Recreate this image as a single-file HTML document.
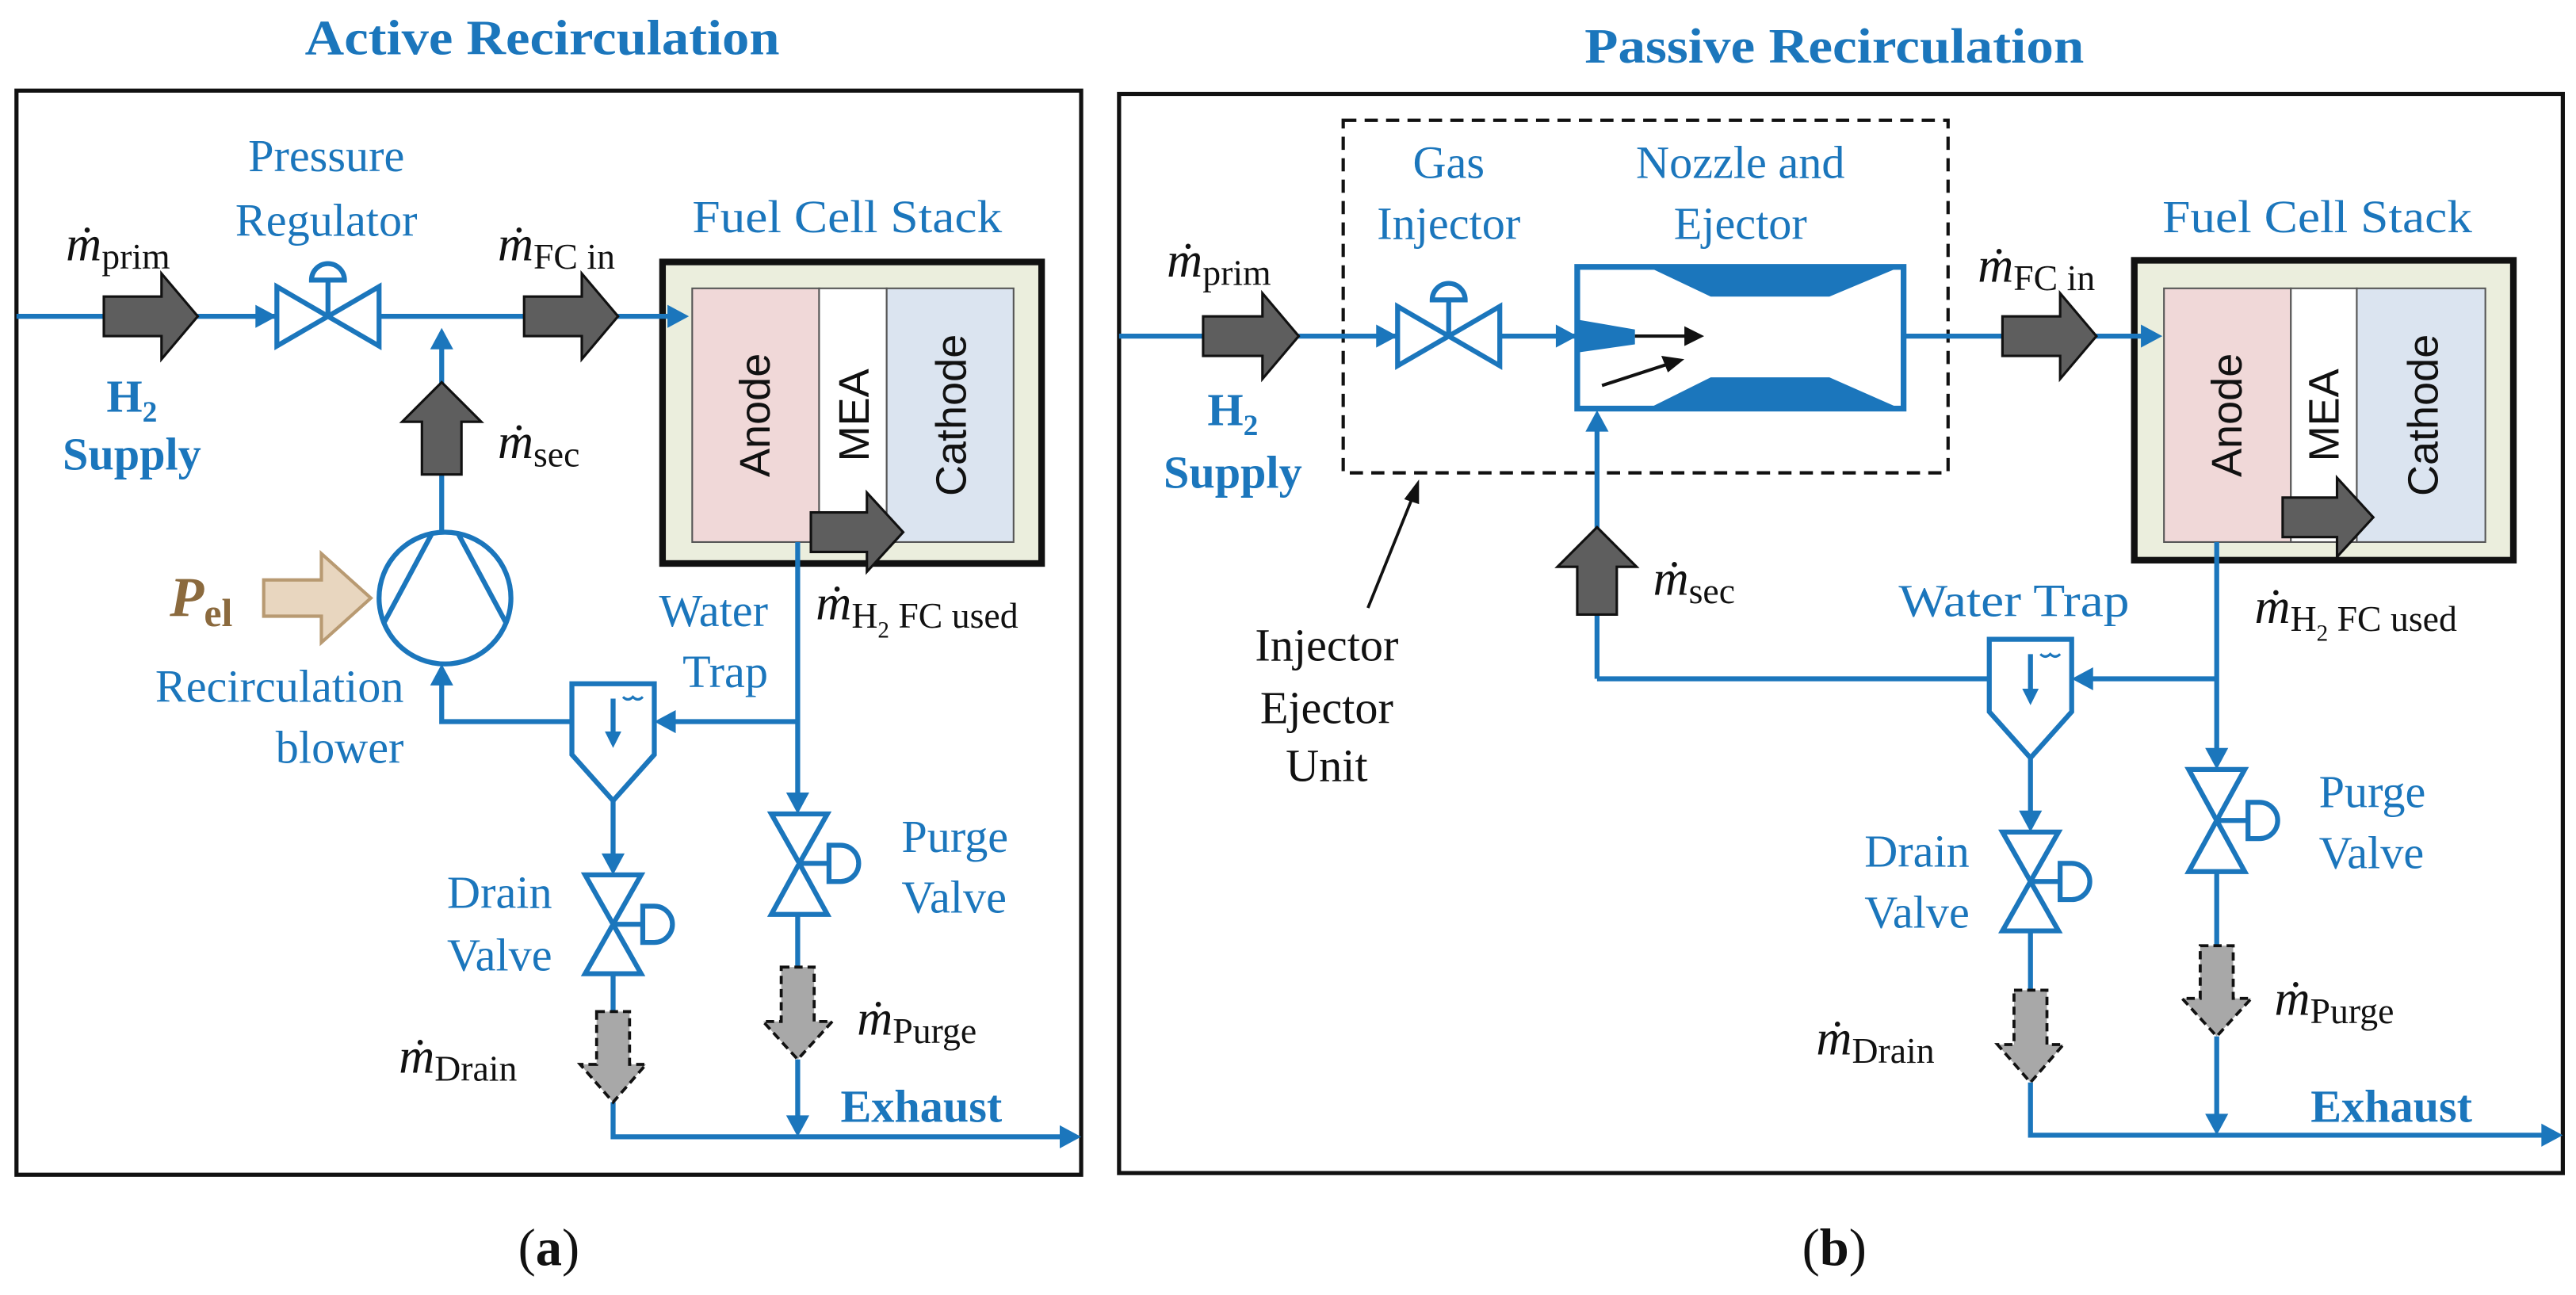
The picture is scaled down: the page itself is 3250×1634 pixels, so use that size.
<!DOCTYPE html>
<html><head><meta charset="utf-8"><style>
html,body{margin:0;padding:0;background:#fff;}
svg{display:block;}
text{font-family:"Liberation Serif",serif;}
.b{fill:#1b76bc;}
.k{fill:#111;}
.ln{stroke:#1b76bc;stroke-width:3;fill:none;}
.vl{stroke:#1b76bc;stroke-width:3;fill:#fff;}
.ah{fill:#1b76bc;}
.ga{fill:#5e5e5e;stroke:#111;stroke-width:1.5;}
.da{fill:#a8a8a8;stroke:#111;stroke-width:1.8;stroke-dasharray:5,3;}
.sans{font-family:"Liberation Sans",sans-serif;}
</style></head><body>
<svg width="3250" height="1634" viewBox="0 0 1563 786" preserveAspectRatio="none" xmlns="http://www.w3.org/2000/svg">
<rect x="0" y="0" width="1563" height="786" fill="#fff"/>

<!-- ================= LEFT PANEL ================= -->
<text x="329" y="33" text-anchor="middle" font-size="30" font-weight="bold" class="b" textLength="288" lengthAdjust="spacingAndGlyphs">Active Recirculation</text>
<rect x="10" y="55" width="646" height="658" fill="none" stroke="#111" stroke-width="2.5"/>

<!-- stack -->
<rect x="402" y="159" width="230" height="183" fill="#ebeedd" stroke="#111" stroke-width="4"/>
<rect x="420" y="175" width="77" height="154" fill="#f0d8d8" stroke="#555" stroke-width="1"/>
<rect x="497" y="175" width="41" height="154" fill="#fff" stroke="#555" stroke-width="1"/>
<rect x="538" y="175" width="77" height="154" fill="#dbe4f0" stroke="#555" stroke-width="1"/>
<text class="sans" font-size="26" fill="#111" text-anchor="middle" transform="translate(467,252) rotate(-90)">Anode</text>
<text class="sans" font-size="26" fill="#111" text-anchor="middle" transform="translate(527,252) rotate(-90)">MEA</text>
<text class="sans" font-size="26" fill="#111" text-anchor="middle" transform="translate(586,252) rotate(-90)">Cathode</text>
<path class="ga" d="M492,311 H526 V299 L548,323 L526,347 V335 H492 Z"/>

<!-- main line -->
<path class="ln" d="M10,192 H406"/>
<path class="ah" d="M418,192 L405,185 V199 Z"/>
<path class="ah" d="M168,192 L155,185 V199 Z"/>
<!-- pressure regulator -->
<path class="vl" d="M168,174 L168,210 L199,192 Z M230,174 L230,210 L199,192 Z"/>
<path class="ln" d="M199,192 V170"/>
<path class="vl" d="M189,170 A10,10 0 0 1 209,170 Z"/>
<!-- gray arrows -->
<path class="ga" d="M63,180 H98 V166 L120,192 L98,218 V204 H63 Z"/>
<path class="ga" d="M318,180 H353 V166 L375,192 L353,218 V204 H318 Z"/>

<!-- secondary up -->
<path class="ln" d="M268,323 V205"/>
<path class="ah" d="M268,199 L261,212 H275 Z"/>
<path class="ga" d="M256,288 V256 H244 L268,232 L292,256 H280 V288 Z"/>
<!-- blower -->
<circle cx="270" cy="363" r="40" class="vl"/>
<path class="ln" d="M262,324 L233,378 M278,324 L307,378"/>
<path fill="#e8d6bf" stroke="#b89a72" stroke-width="2" d="M160,352 H195 V336 L225,363 L195,390 V374 H160 Z"/>
<text x="103" y="374" font-size="34" font-weight="bold" font-style="italic" fill="#8b6a3e">P<tspan font-size="24" font-style="normal" dy="6">el</tspan></text>

<!-- return path -->
<path class="ln" d="M484,329 V488"/>
<path class="ah" d="M484,494 L477,481 H491 Z"/>
<path class="ln" d="M484,438 H404"/>
<path class="ah" d="M397,438 L410,431 V445 Z"/>
<path class="ln" d="M347,438 H268 V410"/>
<path class="ah" d="M268,403 L261,416 H275 Z"/>
<!-- water trap -->
<path class="vl" d="M347,415 H397 V458 L372,486 L347,458 Z"/>
<path class="ln" d="M372,424 V446" stroke-width="2"/>
<path class="ah" d="M372,454 L367,444 H377 Z"/>
<path d="M378,423 q3,3 6,0 q3,3 6,0" stroke="#1b76bc" stroke-width="1.5" fill="none"/>

<!-- purge valve -->
<path class="vl" d="M468,494 H502 L485,524 Z M468,555 H502 L485,524 Z"/>
<path class="ln" d="M485,524 H503"/>
<path class="vl" d="M503,513 H510 A11,11 0 0 1 510,535 H503 Z"/>
<path class="ln" d="M484,555 V587 M484,643 V684"/>
<path class="ah" d="M484,690 L477,677 H491 Z"/>
<path class="da" d="M474,587 H494 V620 H505 L484,643 L463,620 H474 Z"/>

<!-- drain -->
<path class="ln" d="M372,486 V525"/>
<path class="ah" d="M372,531 L365,518 H379 Z"/>
<path class="vl" d="M355,531 H389 L372,561 Z M355,591 H389 L372,561 Z"/>
<path class="ln" d="M372,561 H390"/>
<path class="vl" d="M390,550 H397 A11,11 0 0 1 397,572 H390 Z"/>
<path class="ln" d="M372,591 V614 M372,669 V690 H648"/>
<path class="ah" d="M656,690 L643,683 V697 Z"/>
<path class="da" d="M362,614 H382 V646 H392 L372,669 L352,646 H362 Z"/>

<!-- left labels -->
<g class="b" font-size="28">
<text x="198" y="104" text-anchor="middle">Pressure</text>
<text x="198" y="143" text-anchor="middle">Regulator</text>
<text x="420" y="141" textLength="188" lengthAdjust="spacingAndGlyphs">Fuel Cell Stack</text>
<text x="245" y="426" text-anchor="end">Recirculation</text>
<text x="245" y="463" text-anchor="end">blower</text>
<text x="466" y="380" text-anchor="end">Water</text>
<text x="466" y="417" text-anchor="end">Trap</text>
<text x="547" y="517">Purge</text>
<text x="547" y="554">Valve</text>
<text x="335" y="551" text-anchor="end">Drain</text>
<text x="335" y="589" text-anchor="end">Valve</text>
</g>
<text x="80" y="250" text-anchor="middle" font-size="28" font-weight="bold" class="b">H<tspan font-size="18" dy="6">2</tspan></text>
<text x="80" y="285" text-anchor="middle" font-size="28" font-weight="bold" class="b">Supply</text>
<text x="510" y="681" font-size="28" font-weight="bold" class="b">Exhaust</text>

<g class="k">
<text x="40" y="158" font-size="30" font-style="italic">ṁ<tspan font-style="normal" font-size="22" dy="5">prim</tspan></text>
<text x="302" y="158" font-size="30" font-style="italic">ṁ<tspan font-style="normal" font-size="22" dy="5">FC in</tspan></text>
<text x="302" y="278" font-size="30" font-style="italic">ṁ<tspan font-style="normal" font-size="22" dy="5">sec</tspan></text>
<text x="495" y="376" font-size="30" font-style="italic">ṁ<tspan font-style="normal" font-size="22" dy="5">H</tspan><tspan font-style="normal" font-size="14" dy="6">2</tspan><tspan font-style="normal" font-size="22" dy="-6"> FC used</tspan></text>
<text x="520" y="628" font-size="30" font-style="italic">ṁ<tspan font-style="normal" font-size="22" dy="5">Purge</tspan></text>
<text x="242" y="651" font-size="30" font-style="italic">ṁ<tspan font-style="normal" font-size="22" dy="5">Drain</tspan></text>
<text x="333" y="768" text-anchor="middle" font-size="32">(<tspan font-weight="bold">a</tspan>)</text>
</g>

<!-- ================= RIGHT PANEL ================= -->
<text x="1113" y="38" text-anchor="middle" font-size="30" font-weight="bold" class="b" textLength="303" lengthAdjust="spacingAndGlyphs">Passive Recirculation</text>
<rect x="679" y="57" width="876" height="655" fill="none" stroke="#111" stroke-width="2.5"/>
<rect x="815" y="73" width="367" height="214" fill="none" stroke="#111" stroke-width="2" stroke-dasharray="8,5"/>

<!-- stack -->
<rect x="1295" y="158" width="230" height="182" fill="#ebeedd" stroke="#111" stroke-width="4"/>
<rect x="1313" y="175" width="77" height="154" fill="#f0d8d8" stroke="#555" stroke-width="1"/>
<rect x="1390" y="175" width="40" height="154" fill="#fff" stroke="#555" stroke-width="1"/>
<rect x="1430" y="175" width="78" height="154" fill="#dbe4f0" stroke="#555" stroke-width="1"/>
<text class="sans" font-size="26" fill="#111" text-anchor="middle" transform="translate(1360,252) rotate(-90)">Anode</text>
<text class="sans" font-size="26" fill="#111" text-anchor="middle" transform="translate(1419,252) rotate(-90)">MEA</text>
<text class="sans" font-size="26" fill="#111" text-anchor="middle" transform="translate(1479,252) rotate(-90)">Cathode</text>
<path class="ga" d="M1385,302 H1418 V290 L1440,314 L1418,338 V326 H1385 Z"/>

<!-- main line -->
<path class="ln" d="M679,204 H957 M1155,204 H1300"/>
<path class="ah" d="M848,204 L835,197 V211 Z"/>
<path class="ah" d="M957,204 L944,197 V211 Z"/>
<path class="ah" d="M1312,204 L1299,197 V211 Z"/>
<path class="vl" d="M848,186 L848,222 L879,204 Z M910,186 L910,222 L879,204 Z"/>
<path class="ln" d="M879,204 V182"/>
<path class="vl" d="M869,182 A10,10 0 0 1 889,182 Z"/>
<path class="ga" d="M730,192 H766 V178 L788,204 L766,230 V216 H730 Z"/>
<path class="ga" d="M1215,192 H1250 V178 L1272,204 L1250,230 V216 H1215 Z"/>

<!-- ejector -->
<rect x="957" y="162" width="198" height="86" fill="#fff" stroke="#1b76bc" stroke-width="3.5"/>
<path class="ah" d="M1000,162 L1038,180 L1110,180 L1153,162 Z M1000,248 L1038,229 L1110,229 L1153,248 Z"/>
<path class="ah" d="M957,194 L992,200 L992,209 L957,214 Z"/>
<path d="M992,204 H1024" stroke="#111" stroke-width="2"/>
<path d="M1034,204 L1022,198 V210 Z" fill="#111"/>
<path d="M972,234 L1012,221" stroke="#111" stroke-width="2"/>
<path d="M1022,218 L1008,216 L1012,226 Z" fill="#111"/>

<!-- injector ejector unit pointer -->
<path d="M830,369 L857,302" stroke="#111" stroke-width="1.8"/>
<path d="M861,291 L852,303 L861,306 Z" fill="#111"/>

<!-- secondary -->
<path class="ln" d="M969,412 V255"/>
<path class="ah" d="M969,249 L962,262 H976 Z"/>
<path class="ga" d="M957,373 V344 H945 L969,320 L993,344 H981 V373 Z"/>
<path class="ln" d="M969,412 H1207 M1345,412 H1264"/>
<path class="ah" d="M1257,412 L1270,405 V419 Z"/>
<path class="ln" d="M1345,329 V461"/>
<path class="ah" d="M1345,467 L1338,454 H1352 Z"/>
<!-- trap -->
<path class="vl" d="M1207,388 H1257 V432 L1232,460 L1207,432 Z"/>
<path class="ln" d="M1232,397 V420" stroke-width="2"/>
<path class="ah" d="M1232,428 L1227,418 H1237 Z"/>
<path d="M1238,397 q3,3 6,0 q3,3 6,0" stroke="#1b76bc" stroke-width="1.5" fill="none"/>

<!-- purge -->
<path class="vl" d="M1328,467 H1362 L1345,498 Z M1328,529 H1362 L1345,498 Z"/>
<path class="ln" d="M1345,498 H1364"/>
<path class="vl" d="M1364,487 H1371 A11,11 0 0 1 1371,509 H1364 Z"/>
<path class="ln" d="M1345,529 V574 M1345,629 V683"/>
<path class="ah" d="M1345,689 L1338,676 H1352 Z"/>
<path class="da" d="M1335,574 H1355 V606 H1366 L1345,629 L1324,606 H1335 Z"/>

<!-- drain -->
<path class="ln" d="M1232,460 V499"/>
<path class="ah" d="M1232,505 L1225,492 H1239 Z"/>
<path class="vl" d="M1215,505 H1249 L1232,535 Z M1215,565 H1249 L1232,535 Z"/>
<path class="ln" d="M1232,535 H1250"/>
<path class="vl" d="M1250,524 H1257 A11,11 0 0 1 1257,546 H1250 Z"/>
<path class="ln" d="M1232,565 V601 M1232,657 V689 H1546"/>
<path class="ah" d="M1555,689 L1542,682 V696 Z"/>
<path class="da" d="M1222,601 H1242 V634 H1252 L1232,657 L1212,634 H1222 Z"/>

<!-- right labels -->
<g class="b" font-size="28">
<text x="879" y="108" text-anchor="middle">Gas</text>
<text x="879" y="145" text-anchor="middle">Injector</text>
<text x="1056" y="108" text-anchor="middle">Nozzle and</text>
<text x="1056" y="145" text-anchor="middle">Ejector</text>
<text x="1312" y="141" textLength="188" lengthAdjust="spacingAndGlyphs">Fuel Cell Stack</text>
<text x="1152" y="374" textLength="140" lengthAdjust="spacingAndGlyphs">Water Trap</text>
<text x="1407" y="490">Purge</text>
<text x="1407" y="527">Valve</text>
<text x="1195" y="526" text-anchor="end">Drain</text>
<text x="1195" y="563" text-anchor="end">Valve</text>
</g>
<text x="748" y="258" text-anchor="middle" font-size="28" font-weight="bold" class="b">H<tspan font-size="18" dy="6">2</tspan></text>
<text x="748" y="296" text-anchor="middle" font-size="28" font-weight="bold" class="b">Supply</text>
<text x="1402" y="681" font-size="28" font-weight="bold" class="b">Exhaust</text>

<g class="k">
<text x="805" y="401" text-anchor="middle" font-size="28">Injector</text>
<text x="805" y="439" text-anchor="middle" font-size="28">Ejector</text>
<text x="805" y="474" text-anchor="middle" font-size="28">Unit</text>
<text x="708" y="168" font-size="30" font-style="italic">ṁ<tspan font-style="normal" font-size="22" dy="5">prim</tspan></text>
<text x="1200" y="171" font-size="30" font-style="italic">ṁ<tspan font-style="normal" font-size="22" dy="5">FC in</tspan></text>
<text x="1003" y="361" font-size="30" font-style="italic">ṁ<tspan font-style="normal" font-size="22" dy="5">sec</tspan></text>
<text x="1368" y="378" font-size="30" font-style="italic">ṁ<tspan font-style="normal" font-size="22" dy="5">H</tspan><tspan font-style="normal" font-size="14" dy="6">2</tspan><tspan font-style="normal" font-size="22" dy="-6"> FC used</tspan></text>
<text x="1380" y="616" font-size="30" font-style="italic">ṁ<tspan font-style="normal" font-size="22" dy="5">Purge</tspan></text>
<text x="1102" y="640" font-size="30" font-style="italic">ṁ<tspan font-style="normal" font-size="22" dy="5">Drain</tspan></text>
<text x="1113" y="768" text-anchor="middle" font-size="32">(<tspan font-weight="bold">b</tspan>)</text>
</g>
</svg>
</body></html>
